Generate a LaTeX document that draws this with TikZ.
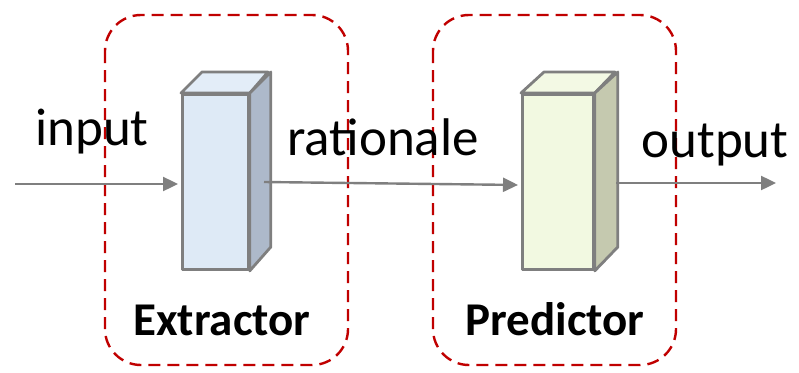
\documentclass[tikz,border=0pt]{standalone}
\usepackage{fontspec}
\setmainfont{Carlito}
\usetikzlibrary{arrows.meta}
\definecolor{edgegray}{HTML}{7F7F7F}
\definecolor{boxred}{HTML}{C00000}
\definecolor{extfront}{HTML}{DEEAF6}
\definecolor{exttop}{HTML}{E3EDF8}
\definecolor{extside}{HTML}{ADB9CA}
\definecolor{prefront}{HTML}{F2F9E1}
\definecolor{pretop}{HTML}{F3F9E4}
\definecolor{preside}{HTML}{C5C9AF}
\tikzset{
  face/.style={draw=edgegray, line width=2.8pt, line join=round},
  frontface/.style={face, rectangle, inner sep=0pt, anchor=north west},
  group/.style={draw=boxred, line width=2.4pt, dash pattern=on 12pt off 7pt, rounded corners=36pt},
  conn/.style={draw=edgegray, line width=2.4pt, -{Triangle[length=15pt,width=14pt]}},
  lbl/.style={font=\fontsize{53}{58}\selectfont, anchor=base, inner sep=0pt},
  blbl/.style={font=\fontsize{47}{52}\selectfont\bfseries, anchor=base, inner sep=0pt}
}
\begin{document}
\begin{tikzpicture}[x=1pt,y=-1pt]
\useasboundingbox (0,0) rectangle (799,372);
% dashed groups
\draw[group] (105,15) rectangle (348,365);
\draw[group] (433,15) rectangle (676,365);
% Extractor cuboid
\node[frontface, fill=extfront, minimum width=66pt, minimum height=175pt] (ext) at (181,93) {};
\filldraw[face, fill=exttop] (ext.north west) -- ++(21,-21) -- ++(66,0) -- (ext.north east) -- cycle;
\filldraw[face, fill=extside] (ext.north east) -- ++(21,-21) -- ++(0,175) -- (ext.south east) -- cycle;
\node[frontface, fill=extfront, minimum width=66pt, minimum height=175pt] at (181,93) {};
% Predictor cuboid
\node[frontface, fill=prefront, minimum width=71pt, minimum height=175pt] (pre) at (521,93) {};
\filldraw[face, fill=pretop] (pre.north west) -- ++(23,-21) -- ++(71,0) -- (pre.north east) -- cycle;
\filldraw[face, fill=preside] (pre.north east) -- ++(23,-21) -- ++(0,175) -- (pre.south east) -- cycle;
\node[frontface, fill=prefront, minimum width=71pt, minimum height=175pt] at (521,93) {};
% connectors
\coordinate (in) at (15,184);
\coordinate (ratstart) at (264,182);
\coordinate (outstart) at (616,183);
\coordinate (outend) at (776,183);
\draw[conn, shorten >=3pt] (in) -- (ext.west |- in);
\draw[conn, shorten >=3pt] (ratstart) -- (pre.west |- 0,185);
\draw[conn] (outstart) -- (outend);
% labels
\node[lbl] (linput) at (92,145) {input};
\node[lbl] (lrat) at (383,155) {rationale};
\node[lbl] (lout) at (715,157) {output};
\node[blbl] (lext) at (222,335) {Extractor};
\node[blbl] (lpre) at (555,335) {Predictor};
\end{tikzpicture}
\end{document}
